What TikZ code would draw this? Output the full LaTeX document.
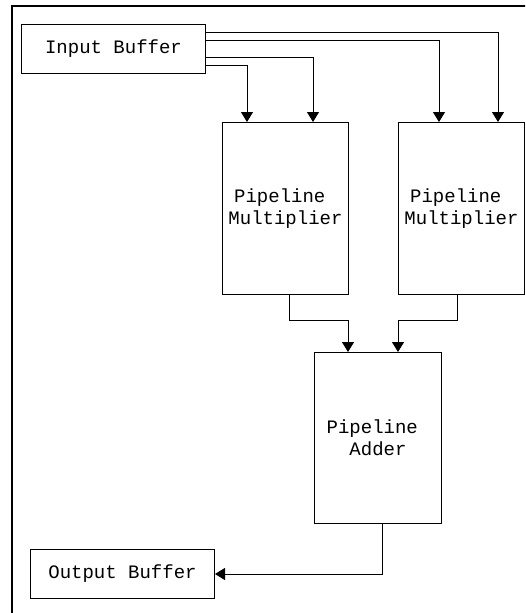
\documentclass[tikz,border=0pt]{standalone}
\usepackage{fontspec}
\setmonofont{Liberation Mono}
\usetikzlibrary{arrows.meta}
\begin{document}
\begin{tikzpicture}[x=1pt,y=-1pt,
  blk/.style={draw, line width=1pt, inner sep=0pt, anchor=north west,
    font=\ttfamily\fontsize{19}{22}\selectfont, align=center},
  wire/.style={line width=1pt, -{Triangle[width=12pt,length=10pt]}}]
\useasboundingbox (0,0) rectangle (525,613);
% outer frame, running past the page on the right and at the bottom
\begin{scope}
  \clip (0,0) rectangle (525,613);
  \draw[line width=2pt] (12,6) rectangle (560,650);
\end{scope}

% blocks
\node[blk, minimum width=184pt, minimum height=49pt] (in) at (21,24) {Input Buffer};
\node[blk, minimum width=126pt, minimum height=172pt] (m1) at (222,122) {Pipeline\hphantom{x}\\Multiplier};
\node[blk, minimum width=126pt, minimum height=172pt] (m2) at (398,122) {Pipeline\hphantom{x}\\Multiplier};
\node[blk, minimum width=127pt, minimum height=171pt] (ad) at (314,352) {Pipeline\hphantom{x}\\Adder};
\node[blk, minimum width=184pt, minimum height=49pt] (out) at (30,549) {Output Buffer};

% input buffer to the multipliers
\draw[wire] ([yshift=-8pt]in.north east)  -| ([xshift=100pt]m2.north west);
\draw[wire] ([yshift=-16pt]in.north east) -| ([xshift=41pt]m2.north west);
\draw[wire] ([yshift=-33pt]in.north east) -| ([xshift=91pt]m1.north west);
\draw[wire] ([yshift=-41pt]in.north east) -| ([xshift=25pt]m1.north west);

% multipliers to the adder
\draw[wire] ([xshift=67pt]m1.south west) -- ++(0,25) -| ([xshift=34pt]ad.north west);
\draw[wire] ([xshift=59pt]m2.south west) -- ++(0,25) -| ([xshift=84pt]ad.north west);

% adder to the output buffer
\draw[wire] ([xshift=68pt]ad.south west) |- (out.east);
\end{tikzpicture}
\end{document}
